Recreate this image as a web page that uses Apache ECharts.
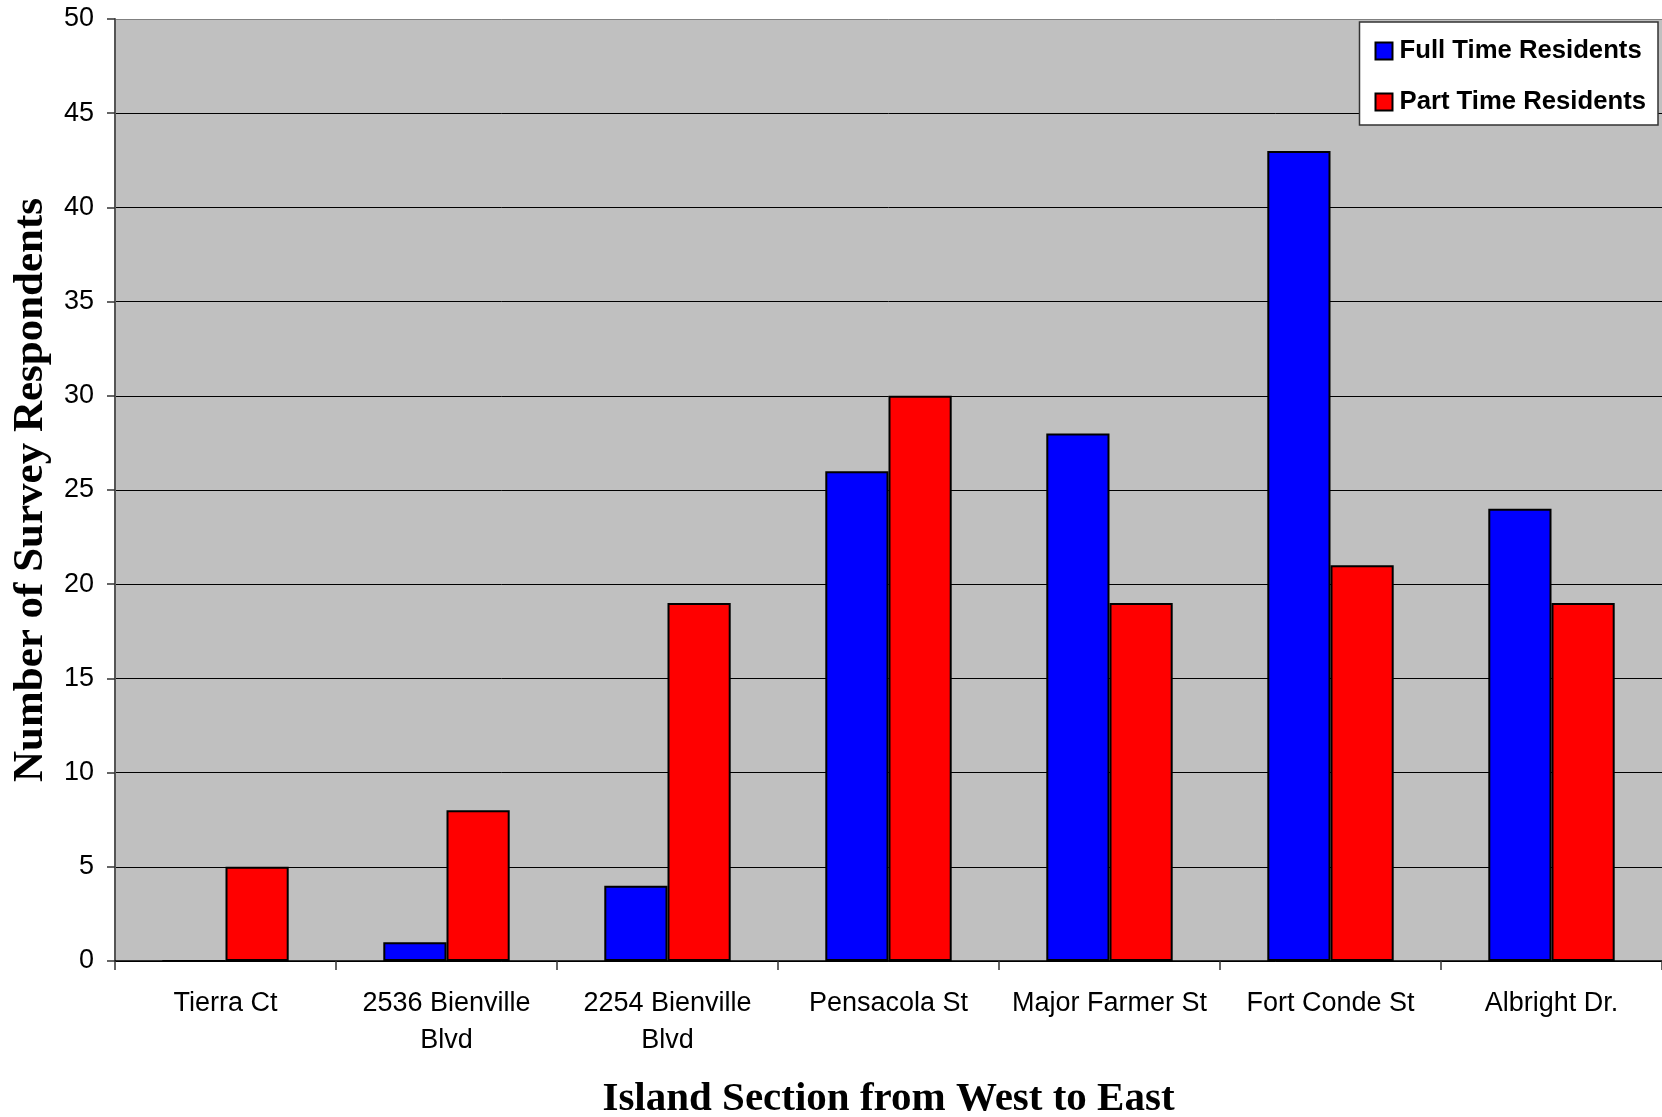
<!DOCTYPE html>
<html>
<head>
<meta charset="utf-8">
<script src="https://cdn.jsdelivr.net/npm/echarts@6/dist/echarts.min.js"></script>
<style>
html,body{margin:0;padding:0;background:#fff;}
#chart{width:1662px;height:1117px;}
</style>
</head>
<body>
<div id="chart"></div>
<script>
const categories = ['Tierra Ct', '2536 Bienville\nBlvd', '2254 Bienville\nBlvd', 'Pensacola St', 'Major Farmer St', 'Fort Conde St', 'Albright Dr.'];
const fullTime = [0, 1, 4, 26, 28, 43, 24];
const partTime = [5, 8, 19, 30, 19, 21, 19];
const seriesNames = ['Full Time Residents', 'Part Time Residents'];
const yMin = 0, yMax = 50, yStep = 5;
const xTitle = 'Island Section from West to East';
const yTitle = 'Number of Survey Respondents';

const splitColors = [];
for (let v = yMin; v <= yMax; v += yStep) splitColors.push(v === yMax ? '#808080' : '#000000');

const chart = echarts.init(document.getElementById('chart'), null, {renderer: 'canvas'});
chart.setOption({
  animation: false,
  backgroundColor: '#ffffff',
  grid: {left: 115, top: 19, right: 0, bottom: 156, show: true, backgroundColor: '#C0C0C0', borderWidth: 0,
         containLabel: false, outerBoundsMode: 'none'},
  legend: {
    orient: 'vertical', right: 4, top: 22,
    backgroundColor: '#ffffff', borderColor: '#333333', borderWidth: 1.5,
    padding: [14, 12, 8, 15], itemGap: 21,
    itemWidth: 17, itemHeight: 17, icon: 'rect',
    itemStyle: {borderColor: '#000', borderWidth: 2},
    textStyle: {fontFamily: 'Liberation Sans, Arial', fontWeight: 'bold', fontSize: 25.7, color: '#000', lineHeight: 30, padding: [0, 0, 0, 2]},
    data: seriesNames
  },
  xAxis: {
    type: 'category', data: categories,
    name: xTitle, nameLocation: 'middle', nameGap: 118,
    nameTextStyle: {fontFamily: 'Liberation Serif, Times New Roman', fontWeight: 'bold', fontSize: 41, color: '#000'},
    axisLine: {lineStyle: {color: '#000', width: 1.5}},
    axisTick: {show: true, length: 9, lineStyle: {color: '#333', width: 1.5}},
    axisLabel: {fontFamily: 'Liberation Sans, Arial', fontSize: 27, color: '#000', lineHeight: 37, margin: 24, interval: 0}
  },
  yAxis: {
    type: 'value', min: yMin, max: yMax, interval: yStep,
    name: yTitle, nameLocation: 'middle', nameRotate: 90, nameGap: 63,
    nameTextStyle: {fontFamily: 'Liberation Serif, Times New Roman', fontWeight: 'bold', fontSize: 43, color: '#000'},
    axisLine: {show: true, lineStyle: {color: '#555', width: 2}},
    axisTick: {show: true, length: 8, lineStyle: {color: '#333', width: 1.5}},
    axisLabel: {fontFamily: 'Liberation Sans, Arial', fontSize: 27, color: '#000', margin: 21},
    splitLine: {show: true, lineStyle: {color: splitColors, width: 1}}
  },
  series: [
    {name: seriesNames[0], type: 'bar', data: fullTime, barWidth: '28.6%', barGap: '0%',
     itemStyle: {color: '#0000FF', borderColor: '#000', borderWidth: 2}},
    {name: seriesNames[1], type: 'bar', data: partTime, barWidth: '28.6%', barGap: '0%',
     itemStyle: {color: '#FF0000', borderColor: '#000', borderWidth: 2}}
  ]
});
</script>
</body>
</html>
